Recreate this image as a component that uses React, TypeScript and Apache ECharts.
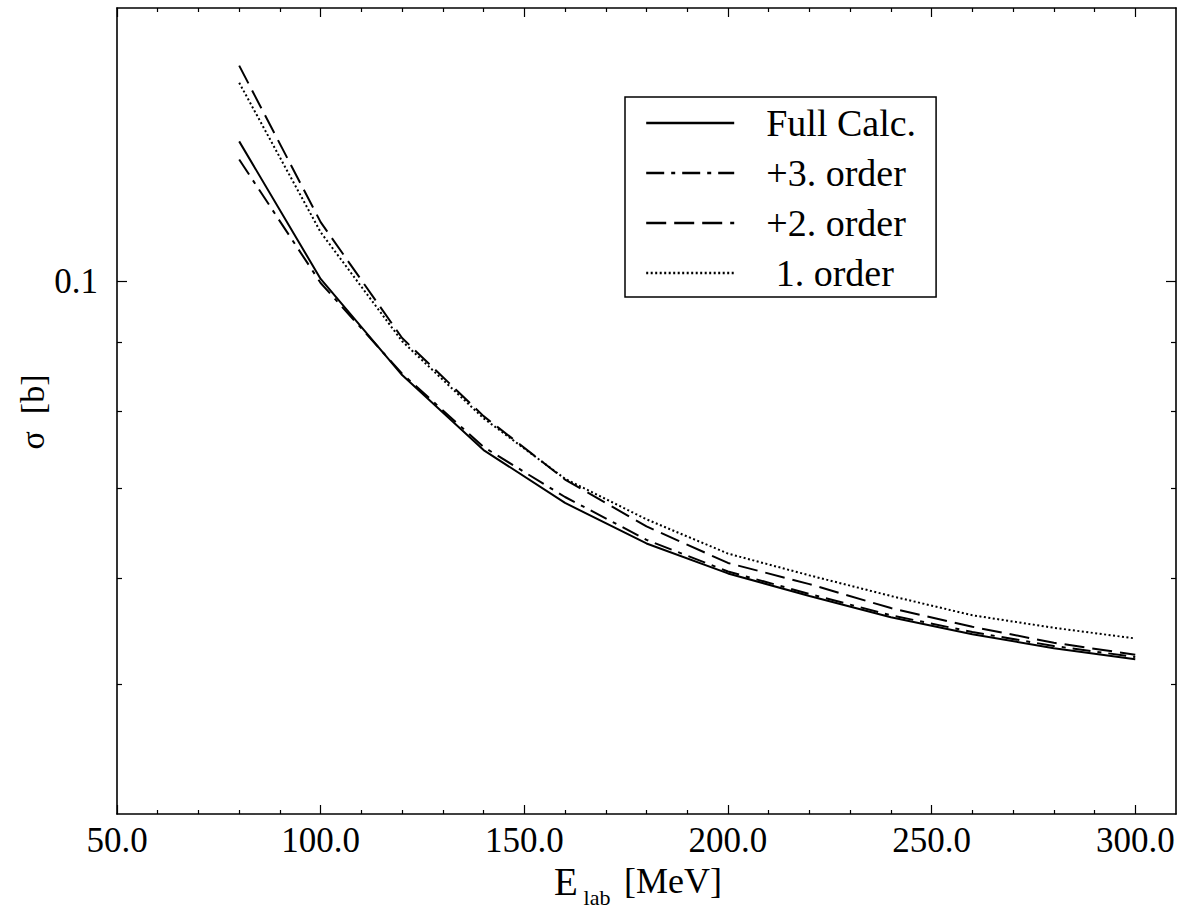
import React, { useEffect, useRef } from 'react';
import * as echarts from 'echarts';

// Lab energies [MeV]
const energies = [80, 100, 120, 140, 160, 180, 200, 220, 240, 260, 280, 300];
// Cross sections [b]
const fullCalc = [0.1272, 0.1004, 0.0851, 0.0748, 0.0683, 0.0637, 0.0605, 0.0582, 0.0561, 0.0545, 0.0532, 0.0522];
const thirdOrder = [0.1233, 0.0997, 0.0853, 0.0752, 0.069, 0.0641, 0.0607, 0.0584, 0.0563, 0.0547, 0.0534, 0.0524];
const secondOrder = [0.1449, 0.1107, 0.0907, 0.0793, 0.0711, 0.0656, 0.0616, 0.0594, 0.057, 0.0552, 0.0537, 0.0526];
const firstOrder = [0.1407, 0.1088, 0.0902, 0.079, 0.0712, 0.0664, 0.0626, 0.0603, 0.0582, 0.0563, 0.0551, 0.0541];

const seriesNames = ['Full Calc.', '+3. order', '+2. order', ' 1. order'];

const xRange = [50, 310];
const xMajorTicks = [50, 100, 150, 200, 250, 300];
const xMinorTicks = [60, 70, 80, 90, 110, 120, 130, 140, 160, 170, 180, 190, 210, 220, 230, 240, 260, 270, 280, 290];
const yRange = [0.04, 0.16];
const yMajorTicks = [0.1];
const yMajorLabels = ['0.1'];
const yMinorTicks = [0.05, 0.06, 0.07, 0.08, 0.09];

const FONT = 'Liberation Serif';

export default function App() {
  const ref = useRef<HTMLDivElement>(null);

  useEffect(() => {
    if (!ref.current) return;
    const chart = echarts.init(ref.current, undefined, { renderer: 'svg' });
    const lg = (v: number) => Math.log10(v);
    const yMin = lg(yRange[0]);
    const yMax = lg(yRange[1]);

    const toData = (vals: number[]) => energies.map((e, i) => [e, lg(vals[i])]);
    const styles: any[] = [
      { type: 'solid' },
      { type: [18, 7, 4, 7] },
      { type: [20, 8] },
      { type: [2, 2.5] },
    ];
    const datasets = [fullCalc, thirdOrder, secondOrder, firstOrder];

    const xBase = (position: string, ticks: number[], len: number, showLine: boolean, showLabel: boolean) => ({
      type: 'value',
      position,
      min: xRange[0],
      max: xRange[1],
      splitLine: { show: false },
      axisLine: { show: showLine, onZero: false, lineStyle: { color: '#000', width: 1.6 } },
      axisTick: { show: true, inside: true, length: len, customValues: ticks, lineStyle: { color: '#000', width: 1.2 } },
      axisLabel: showLabel
        ? {
            show: true,
            customValues: xMajorTicks,
            formatter: (v: number) => v.toFixed(1),
            fontFamily: FONT,
            fontSize: 35,
            color: '#000',
            margin: 9,
          }
        : { show: false },
    });

    const yBase = (position: string, ticks: number[], len: number, showLine: boolean, showLabel: boolean) => ({
      type: 'value',
      position,
      min: yMin,
      max: yMax,
      splitLine: { show: false },
      axisLine: { show: showLine, onZero: false, lineStyle: { color: '#000', width: 1.6 } },
      axisTick: { show: true, inside: true, length: len, customValues: ticks.map(lg), lineStyle: { color: '#000', width: 1.2 } },
      axisLabel: showLabel
        ? {
            show: true,
            customValues: yMajorTicks.map(lg),
            formatter: (v: number) => {
              let best = 0;
              yMajorTicks.forEach((t, i) => {
                if (Math.abs(lg(t) - v) < Math.abs(lg(yMajorTicks[best]) - v)) best = i;
              });
              return yMajorLabels[best];
            },
            fontFamily: FONT,
            fontSize: 35,
            color: '#000',
            margin: 19,
          }
        : { show: false },
    });

    chart.setOption({
      animation: false,
      backgroundColor: '#fff',
      grid: { left: 117, top: 8, width: 1059, height: 806, containLabel: false },
      xAxis: [
        xBase('bottom', xMajorTicks, 9, true, true),
        xBase('bottom', xMinorTicks, 4, false, false),
        xBase('top', xMajorTicks, 9, true, false),
        xBase('top', xMinorTicks, 4, false, false),
      ],
      yAxis: [
        yBase('left', yMajorTicks, 10, true, true),
        yBase('left', yMinorTicks, 5, false, false),
        yBase('right', yMajorTicks, 10, true, false),
        yBase('right', yMinorTicks, 5, false, false),
      ],
      legend: {
        data: seriesNames,
        orient: 'vertical',
        left: 625,
        top: 97,
        padding: [6, 20, 4, 20],
        borderColor: '#000',
        borderWidth: 1.5,
        itemWidth: 88,
        itemHeight: 14,
        itemGap: 10,
        selectedMode: false,
        itemStyle: { color: 'rgba(0,0,0,0)', borderWidth: 0, opacity: 0 },
        lineStyle: { width: 2.4, color: '#000' },
        textStyle: { fontFamily: FONT, fontSize: 38, color: '#000', lineHeight: 40, padding: [0, 0, 0, 27] },
      },
      series: datasets.map((vals, i) => ({
        name: seriesNames[i],
        type: 'line',
        xAxisIndex: 0,
        yAxisIndex: 0,
        data: toData(vals),
        symbol: 'none',
        showSymbol: false,
        itemStyle: { color: '#000' },
        lineStyle: { color: '#000', width: 2, ...styles[i] },
        emphasis: { disabled: true },
      })),
      graphic: [
        {
          type: 'text',
          x: 566,
          y: 881,
          style: { text: 'E', fontFamily: FONT, fontSize: 39, fill: '#000', textAlign: 'center', textVerticalAlign: 'middle' },
        },
        {
          type: 'text',
          x: 597,
          y: 897,
          style: { text: 'lab', fontFamily: FONT, fontSize: 22, fill: '#000', textAlign: 'center', textVerticalAlign: 'middle' },
        },
        {
          type: 'text',
          x: 673,
          y: 881,
          style: { text: '[MeV]', fontFamily: FONT, fontSize: 36, fill: '#000', textAlign: 'center', textVerticalAlign: 'middle' },
        },
        {
          type: 'text',
          x: 32,
          y: 412,
          rotation: Math.PI / 2,
          style: { text: 'σ  [b]', fontFamily: FONT, fontSize: 34, fill: '#000', textAlign: 'center', textVerticalAlign: 'middle' },
        },
      ],
    });

    return () => chart.dispose();
  }, []);

  return (
    <div
      ref={ref}
      style={{ position: 'fixed', left: 0, top: 0, width: 1182, height: 916, background: '#fff' }}
    />
  );
}
